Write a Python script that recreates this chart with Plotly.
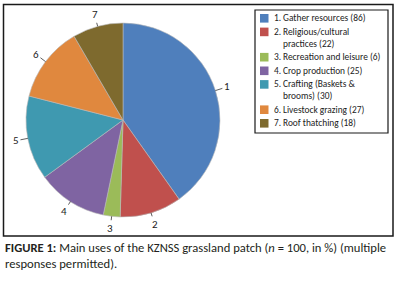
import math
import plotly.graph_objects as go

# ---- data ----
numbers = ["1", "2", "3", "4", "5", "6", "7"]
categories = ["Gather resources", "Religious/cultural<br>practices", "Recreation and leisure",
              "Crop production", "Crafting (Baskets &<br>brooms)", "Livestock grazing", "Roof thatching"]
values = [86, 22, 6, 25, 30, 27, 18]
colors = ["#4F7FBC", "#C0504D", "#9BBB59", "#7F64A2", "#3F99B0", "#E0883E", "#7E6A2E"]

W, H = 399, 284
FONT = "Carlito, Lato, 'Liberation Sans', sans-serif"
TXT = "#222222"

def px(x):
    return x / W

def py(y):
    return (H - y) / H

# pie geometry (pixels)
CX, CY, R = 123, 120, 97

fig = go.Figure()
fig.add_trace(go.Pie(
    labels=[f"{n}. {c.replace('<br>', ' ')}" for n, c in zip(numbers, categories)],
    values=values,
    sort=False,
    direction="clockwise",
    rotation=0,
    textinfo="none",
    hoverinfo="label+value",
    marker=dict(colors=colors, line=dict(color="#B8B8B8", width=0.6)),
    domain=dict(x=[px(CX - R), px(CX + R)], y=[py(CY + R), py(CY - R)]),
    showlegend=False,
))

annotations = []
shapes = []

# slice number labels with leader lines
total = sum(values)
cum = 0
for n, v in zip(numbers, values):
    mid = (cum + v / 2) / total * 2 * math.pi
    cum += v
    ex, ey = CX + R * math.sin(mid), CY - R * math.cos(mid)
    d = 12
    annotations.append(dict(
        x=px(ex), y=py(ey), xref="paper", yref="paper",
        text=n, showarrow=True, arrowhead=0, arrowwidth=0.8, arrowcolor="#333333",
        ax=d * math.sin(mid), ay=-d * math.cos(mid), standoff=0,
        font=dict(family=FONT, size=11, color=TXT),
    ))

# outer frame
shapes.append(dict(type="rect", xref="paper", yref="paper",
                   x0=px(3.5), x1=px(393), y0=py(236), y1=py(4.5),
                   line=dict(color="#1a1a1a", width=1.5)))
# legend box
shapes.append(dict(type="rect", xref="paper", yref="paper",
                   x0=px(255), x1=px(388), y0=py(133), y1=py(10),
                   line=dict(color="#1a1a1a", width=1.2)))

# legend entries
LFS = 9.4
y = 18.3
for n, c, v, col in zip(numbers, categories, values, colors):
    lines = f"{c} ({v})".split("<br>")
    shapes.append(dict(type="rect", xref="paper", yref="paper",
                       x0=px(260), x1=px(268.5), y0=py(y + 4.3), y1=py(y - 4.3),
                       fillcolor=col, line=dict(width=0)))
    annotations.append(dict(x=px(272), y=py(y), xref="paper", yref="paper",
                            xanchor="left", yanchor="middle", showarrow=False,
                            text=f"{n}.", font=dict(family=FONT, size=LFS, color=TXT)))
    for k, line in enumerate(lines):
        annotations.append(dict(x=px(281), y=py(y + 11.7 * k), xref="paper", yref="paper",
                                xanchor="left", yanchor="middle", showarrow=False,
                                text=line, font=dict(family=FONT, size=LFS, color=TXT)))
    y += 13.6 + 11.7 * (len(lines) - 1)

# caption
annotations.append(dict(x=px(3), y=py(255.5), xref="paper", yref="paper",
                        xanchor="left", yanchor="middle", showarrow=False, align="left",
                        text="<b>FIGURE 1:</b> Main uses of the KZNSS grassland patch (<i>n</i> = 100, in %) (multiple"
                             "<br>responses permitted).",
                        font=dict(family=FONT, size=12.6, color="#231F20")))

fig.update_layout(
    width=W, height=H,
    margin=dict(l=0, r=0, t=0, b=0),
    paper_bgcolor="white", plot_bgcolor="white",
    shapes=shapes, annotations=annotations,
)

fig.write_html("out.html", config={"displayModeBar": False},
               post_script="document.body.style.margin='0';document.body.style.padding='0';")
